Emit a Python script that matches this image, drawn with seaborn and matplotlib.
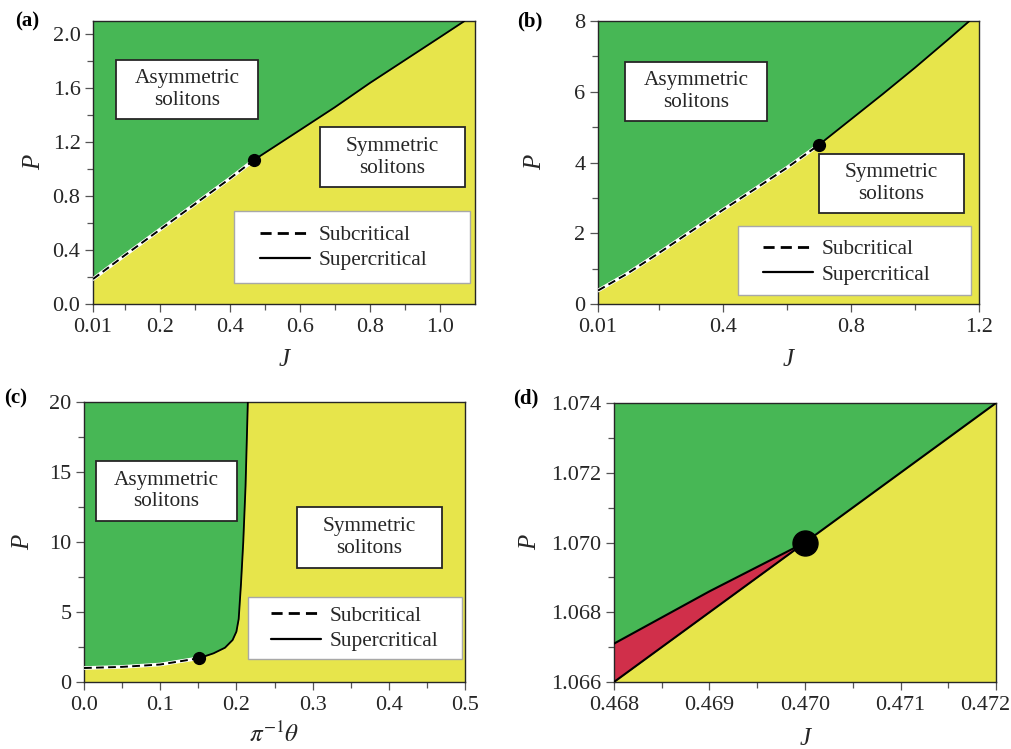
import numpy as np
import matplotlib
matplotlib.use('Agg')
import matplotlib.pyplot as plt
from matplotlib.lines import Line2D
from matplotlib.patches import Rectangle
from matplotlib.ticker import MultipleLocator, FixedLocator, FormatStrFormatter
from matplotlib.transforms import ScaledTranslation
import seaborn as sns

# ---- data ----
# (a) P vs J
a_J_sub = [0.01, 0.1, 0.2, 0.3, 0.4, 0.47]
a_P_sub = [0.185, 0.36, 0.55, 0.74, 0.93, 1.07]
a_J_sup = [0.47, 0.6, 0.7, 0.8, 0.9, 1.0, 1.07]
a_P_sup = [1.07, 1.29, 1.46, 1.64, 1.81, 1.98, 2.10]
a_dot = (0.47, 1.07)

# (b) P vs J
b_J_sub = [0.01, 0.1, 0.2, 0.3, 0.4, 0.5, 0.6, 0.7]
b_P_sub = [0.38, 0.85, 1.44, 2.05, 2.66, 3.25, 3.85, 4.5]
b_J_sup = [0.7, 0.8, 0.9, 1.0, 1.1, 1.17]
b_P_sup = [4.5, 5.22, 5.94, 6.68, 7.45, 8.0]
b_dot = (0.7, 4.5)

# (c) P vs theta/pi
c_T_sub = [0.0, 0.05, 0.1, 0.151]
c_P_sub = [1.0, 1.08, 1.25, 1.7]
c_T_sup = [0.151, 0.17, 0.185, 0.195, 0.2, 0.203, 0.206, 0.209, 0.212, 0.215]
c_P_sup = [1.7, 2.05, 2.45, 3.0, 3.6, 4.5, 7.0, 10.0, 14.0, 20.0]
c_dot = (0.151, 1.7)

# (d) zoom near the tricritical point
d_J_low = [0.468, 0.470, 0.472]
d_P_low = [1.066, 1.070, 1.074]
d_J_up = [0.468, 0.469, 0.470]
d_P_up = [1.0671, 1.0686, 1.0700]
d_dot = (0.470, 1.070)

GREEN = '#47B755'
YELLOW = '#E7E54B'
RED = '#D02F4A'
INK = '#262626'
FS = 16
FS_BOX = 15.3

sns.set_theme(style='ticks')
plt.rcParams['font.family'] = ['Liberation Serif', 'DejaVu Serif']
plt.rcParams['mathtext.fontset'] = 'stix'
plt.rcParams['axes.edgecolor'] = INK
plt.rcParams['axes.linewidth'] = 1.0

W, H = 1012, 749
fig = plt.figure(figsize=(W / 100, H / 100), dpi=100)
fig.patch.set_facecolor('white')


def add_ax(l, r, t, b):
    ax = fig.add_axes([l / W, 1 - b / H, (r - l) / W, (b - t) / H])
    ax.set_facecolor(YELLOW)
    ax.tick_params(which='major', length=6, width=0.9, color='#555555',
                   labelsize=FS, labelcolor=INK, pad=3)
    ax.tick_params(which='minor', length=4, width=0.9, color='#555555')
    ax.tick_params(axis='x', which='major', pad=4)
    return ax


def boundary(ax, xs_sub, ys_sub, xs_sup, ys_sup, top, dot, ms=8.5):
    xs = list(xs_sub) + list(xs_sup[1:])
    ys = list(ys_sub) + list(ys_sup[1:])
    ax.fill_between(xs, ys, top, color=GREEN, lw=0, zorder=1)
    sns.lineplot(x=xs_sub, y=ys_sub, ax=ax, color='white', lw=2.6, zorder=3)
    sns.lineplot(x=xs_sub, y=ys_sub, ax=ax, color='black', lw=1.4,
                 linestyle=(0, (4, 2.2)), zorder=4)
    sns.lineplot(x=xs_sup, y=ys_sup, ax=ax, color='black', lw=1.3, zorder=4)
    ax.plot([dot[0]], [dot[1]], 'o', color='black', ms=ms, zorder=5, clip_on=False)


def label_box(ax, x0, y0, x1, y1, text):
    ax.add_patch(Rectangle((x0, y0), x1 - x0, y1 - y0, transform=ax.transAxes,
                           fc='white', ec=INK, lw=1.3, zorder=6))
    ax.text((x0 + x1) / 2, (y0 + y1) / 2, text, transform=ax.transAxes,
            ha='center', va='center', fontsize=FS_BOX, color=INK,
            linespacing=1.2, zorder=7)


def legend_box(ax, x0, y0, x1, y1, hx, hy):
    ax.add_patch(Rectangle((x0, y0), x1 - x0, y1 - y0, transform=ax.transAxes,
                           fc='white', ec='#a8a8a8', lw=1.0, zorder=6))
    handles = [Line2D([], [], color='black', lw=2.0, linestyle=(0, (4, 2.2))),
               Line2D([], [], color='black', lw=1.6)]
    leg = ax.legend(handles, ['Subcritical', 'Supercritical'], loc='center left',
                    bbox_to_anchor=(hx, hy), frameon=False, borderpad=0,
                    borderaxespad=0, handlelength=2.35, handletextpad=0.4,
                    labelspacing=0.25, fontsize=FS_BOX)
    leg.set_zorder(8)
    for t in leg.get_texts():
        t.set_color(INK)


def axis_labels(ax, xl, yl, xly, ylx):
    ax.set_xlabel(xl, fontsize=FS + 2, color=INK, style='italic')
    ax.set_ylabel(yl, fontsize=FS + 2, color=INK, style='italic')
    ax.xaxis.set_label_coords(0.5, xly)
    ax.yaxis.set_label_coords(ylx, 0.5)


# ---- (a) ----
ax = add_ax(93, 475, 21, 304)
boundary(ax, a_J_sub, a_P_sub, a_J_sup, a_P_sup, 2.1, a_dot)
ax.set_xlim(0.01, 1.1)
ax.set_ylim(0, 2.1)
ax.xaxis.set_major_locator(FixedLocator([0.01, 0.2, 0.4, 0.6, 0.8, 1.0]))
ax.set_xticklabels(['0.01', '0.2', '0.4', '0.6', '0.8', '1.0'])
ax.xaxis.set_minor_locator(FixedLocator([0.1, 0.3, 0.5, 0.7, 0.9]))
ax.yaxis.set_major_locator(MultipleLocator(0.4))
ax.yaxis.set_minor_locator(MultipleLocator(0.2))
ax.yaxis.set_major_formatter(FormatStrFormatter('%.1f'))
label_box(ax, 0.060, 0.654, 0.432, 0.862, 'Asymmetric\nsolitons')
label_box(ax, 0.594, 0.413, 0.974, 0.625, 'Symmetric\nsolitons')
legend_box(ax, 0.369, 0.074, 0.987, 0.329, 0.437, 0.198)
axis_labels(ax, 'J', 'P', -0.16, -0.125)

# ---- (b) ----
ax = add_ax(598, 979, 21, 304)
boundary(ax, b_J_sub, b_P_sub, b_J_sup, b_P_sup, 8, b_dot)
ax.set_xlim(0.01, 1.2)
ax.set_ylim(0, 8)
ax.xaxis.set_major_locator(FixedLocator([0.01, 0.4, 0.8, 1.2]))
ax.set_xticklabels(['0.01', '0.4', '0.8', '1.2'])
ax.xaxis.set_minor_locator(FixedLocator([0.2, 0.6, 1.0]))
ax.yaxis.set_major_locator(MultipleLocator(2))
ax.yaxis.set_minor_locator(MultipleLocator(1))
label_box(ax, 0.071, 0.647, 0.444, 0.855, 'Asymmetric\nsolitons')
label_box(ax, 0.580, 0.322, 0.961, 0.530, 'Symmetric\nsolitons')
legend_box(ax, 0.367, 0.032, 0.979, 0.276, 0.433, 0.148)
axis_labels(ax, 'J', 'P', -0.16, -0.135)

# ---- (c) ----
ax = add_ax(84, 465, 402, 682)
boundary(ax, c_T_sub, c_P_sub, c_T_sup, c_P_sup, 20, c_dot)
ax.set_xlim(0, 0.5)
ax.set_ylim(0, 20)
ax.xaxis.set_major_locator(MultipleLocator(0.1))
ax.xaxis.set_minor_locator(MultipleLocator(0.05))
ax.xaxis.set_major_formatter(FormatStrFormatter('%.1f'))
ax.yaxis.set_major_locator(MultipleLocator(5))
ax.yaxis.set_minor_locator(MultipleLocator(2.5))
label_box(ax, 0.031, 0.575, 0.402, 0.789, 'Asymmetric\nsolitons')
label_box(ax, 0.559, 0.407, 0.940, 0.625, 'Symmetric\nsolitons')
legend_box(ax, 0.430, 0.082, 0.992, 0.304, 0.491, 0.191)
axis_labels(ax, r'$\pi^{-1}\theta$', 'P', -0.14, -0.132)

# ---- (d) ----
ax = add_ax(614, 996, 403, 682)
ax.fill_between(d_J_low, d_P_low, 1.074, color=GREEN, lw=0, zorder=1)
ax.fill_between(d_J_up, np.interp(d_J_up, d_J_low, d_P_low), d_P_up,
                color=RED, lw=0, zorder=1)
sns.lineplot(x=d_J_low, y=d_P_low, ax=ax, color='black', lw=1.5, zorder=4)
sns.lineplot(x=d_J_up, y=d_P_up, ax=ax, color='black', lw=1.5, zorder=4)
ax.plot([d_dot[0]], [d_dot[1]], 'o', color='black', ms=18, zorder=5)
ax.set_xlim(0.468, 0.472)
ax.set_ylim(1.066, 1.074)
ax.xaxis.set_major_locator(FixedLocator([0.468, 0.469, 0.470, 0.471, 0.472]))
ax.xaxis.set_minor_locator(FixedLocator([0.4685, 0.4695, 0.4705, 0.4715]))
ax.xaxis.set_major_formatter(FormatStrFormatter('%.3f'))
ax.yaxis.set_major_locator(MultipleLocator(0.002))
ax.yaxis.set_minor_locator(MultipleLocator(0.001))
ax.yaxis.set_major_formatter(FormatStrFormatter('%.3f'))
axis_labels(ax, 'J', 'P', -0.165, -0.19)
fig.canvas.draw()
for lab in ax.get_xticklabels():
    if lab.get_text() == '0.472':
        lab.set_transform(lab.get_transform() + ScaledTranslation(-0.11, 0, fig.dpi_scale_trans))

# panel tags
for tag, x, y in [('(a)', 27, 21), ('(b)', 530, 21), ('(c)', 16, 398), ('(d)', 526, 398)]:
    fig.text(x / W, 1 - y / H, tag, ha='center', va='center',
             fontsize=FS - 1, fontweight='bold', color='black')

plt.savefig('out.png', dpi=100)
plt.close()
